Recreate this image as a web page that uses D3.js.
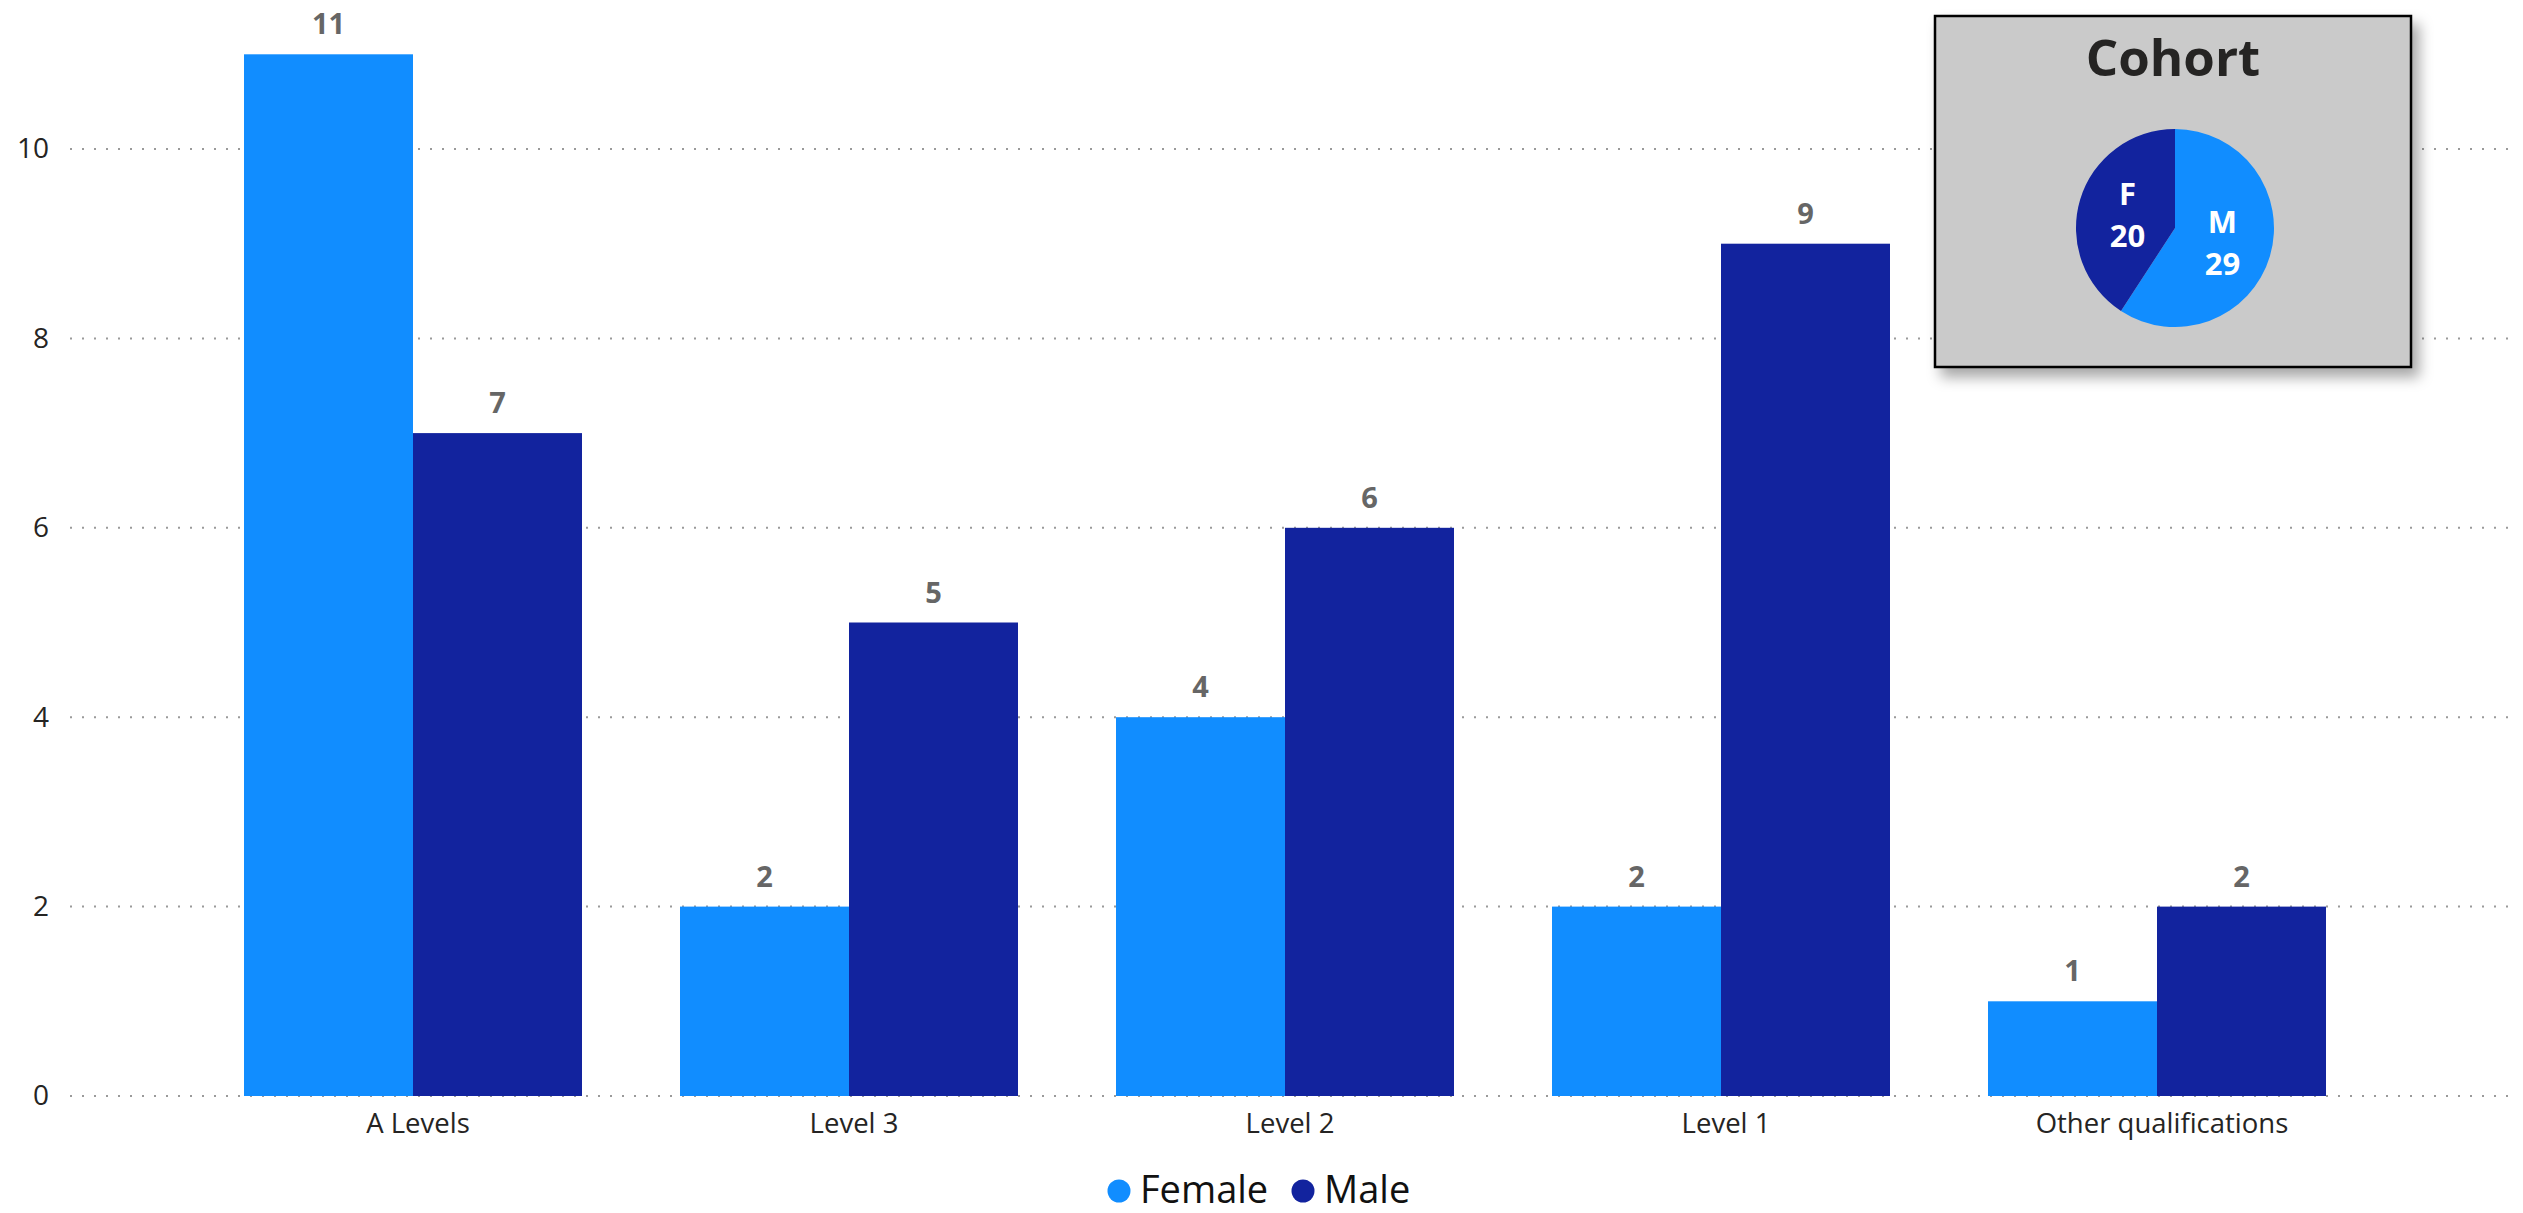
<!DOCTYPE html>
<html>
<head>
<meta charset="utf-8">
<script src="https://cdn.jsdelivr.net/npm/d3@7"></script>
<style>
  html, body { margin: 0; padding: 0; background: #fff; }
  svg { display: block; }
  text { font-family: "Segoe UI", "Open Sans", "Noto Sans", sans-serif; }
</style>
</head>
<body>
<svg id="chart" width="2523" height="1213"></svg>
<script>
// ---- data ----
const categories = ["A Levels", "Level 3", "Level 2", "Level 1", "Other qualifications"];
const seriesNames = ["Female", "Male"];
const femaleValues = [11, 2, 4, 2, 1];
const maleValues = [7, 5, 6, 9, 2];
const yTickValues = [0, 2, 4, 6, 8, 10];
const cohortTitle = "Cohort";
const cohortLabels = ["M", "F"];
const cohortValues = [29, 20];

// ---- styles ----
const colors = { Female: "#118DFF", Male: "#12239E" };
const pieColors = { M: "#118DFF", F: "#12239E" };

const svg = d3.select("#chart");

const rows = categories.map((c, i) => ({ category: c, Female: femaleValues[i], Male: maleValues[i] }));

const x0 = d3.scaleBand().domain(categories).range([195, 2375]).paddingInner(0.2248).paddingOuter(0.1124);
const x1 = d3.scaleBand().domain(seriesNames).range([0, x0.bandwidth()]).padding(0);
const y = d3.scaleLinear().domain([0, 10]).range([1096, 149]);

// gridlines
const gridLeft = 70, gridRight = 2510;
svg.append("g").selectAll("line").data(yTickValues).join("line")
  .attr("x1", gridLeft).attr("x2", gridRight)
  .attr("y1", d => y(d)).attr("y2", d => y(d))
  .attr("stroke", "#9a9a9a").attr("stroke-width", 2)
  .attr("stroke-dasharray", "2,10");

// y axis labels
const yAxis = d3.axisLeft(y).tickValues(yTickValues).tickSize(0).tickPadding(0).tickFormat(d3.format("d"));
const gy = svg.append("g").attr("transform", "translate(49,0)").call(yAxis);
gy.select(".domain").remove();
gy.selectAll("text").attr("font-size", 28).attr("fill", "#252423")
  .style("font-family", '"Segoe UI", "Open Sans", sans-serif');

// bars
const groups = svg.append("g").selectAll("g").data(rows).join("g")
  .attr("transform", d => `translate(${x0(d.category)},0)`);

groups.selectAll("rect").data(d => seriesNames.map(s => ({ key: s, value: d[s] }))).join("rect")
  .attr("x", d => x1(d.key))
  .attr("width", x1.bandwidth())
  .attr("y", d => y(d.value))
  .attr("height", d => y(0) - y(d.value))
  .attr("fill", d => colors[d.key]);

groups.selectAll("text.val").data(d => seriesNames.map(s => ({ key: s, value: d[s] }))).join("text")
  .attr("class", "val")
  .attr("x", d => x1(d.key) + x1.bandwidth() / 2)
  .attr("y", d => y(d.value) - 20)
  .attr("text-anchor", "middle")
  .attr("font-size", 29).attr("font-weight", 700).attr("fill", "#666666")
  .text(d => d.value);

// x axis labels
const xAxis = d3.axisBottom(x0).tickSize(0).tickPadding(17);
const gx = svg.append("g").attr("transform", `translate(0,${y(0)})`).call(xAxis);
gx.select(".domain").remove();
gx.selectAll("text").attr("font-size", 27.5).attr("fill", "#252423").attr("dx", 5)
  .style("font-family", '"Segoe UI", "Open Sans", sans-serif');

// legend
const legendItems = [
  { name: "Female", cx: 1119, tx: 1140 },
  { name: "Male", cx: 1303, tx: 1324 }
];
const lg = svg.append("g");
lg.selectAll("circle").data(legendItems).join("circle")
  .attr("cx", d => d.cx).attr("cy", 1191).attr("r", 11.5)
  .attr("fill", d => colors[d.name]);
lg.selectAll("text").data(legendItems).join("text")
  .attr("x", d => d.tx).attr("y", 1203)
  .attr("font-size", 38).attr("fill", "#111")
  .text(d => d.name);

// ---- cohort inset ----
const defs = svg.append("defs");
const f = defs.append("filter").attr("id", "shadow").attr("x", "-10%").attr("y", "-10%").attr("width", "130%").attr("height", "130%");
f.append("feDropShadow").attr("dx", 7).attr("dy", 9).attr("stdDeviation", 7)
  .attr("flood-color", "#000").attr("flood-opacity", 0.35);

const box = { x: 1935, y: 16, w: 476, h: 351 };
const inset = svg.append("g");
inset.append("rect")
  .attr("x", box.x).attr("y", box.y).attr("width", box.w).attr("height", box.h)
  .attr("fill", "#cacaca").attr("stroke", "#000").attr("stroke-width", 2.5)
  .attr("filter", "url(#shadow)");

inset.append("text")
  .attr("x", box.x + box.w / 2).attr("y", 76)
  .attr("text-anchor", "middle")
  .attr("font-size", 51).attr("font-weight", 700).attr("fill", "#252423")
  .text(cohortTitle);

const pieData = d3.pie().sort(null).value(d => d.value)(cohortLabels.map((l, i) => ({ label: l, value: cohortValues[i] })));
const arc = d3.arc().innerRadius(0).outerRadius(99);
const pg = inset.append("g").attr("transform", "translate(2175,228)");
pg.selectAll("path").data(pieData).join("path")
  .attr("d", arc)
  .attr("fill", d => pieColors[d.data.label]);

const lbl = pg.selectAll("text").data(pieData).join("text")
  .attr("transform", d => `translate(${arc.centroid(d)})`)
  .attr("text-anchor", "middle")
  .attr("font-size", 31).attr("font-weight", 700).attr("fill", "#ffffff");
lbl.append("tspan").attr("x", 0).attr("y", -9).text(d => d.data.label);
lbl.append("tspan").attr("x", 0).attr("y", 33).text(d => d.data.value);
</script>
</body>
</html>
